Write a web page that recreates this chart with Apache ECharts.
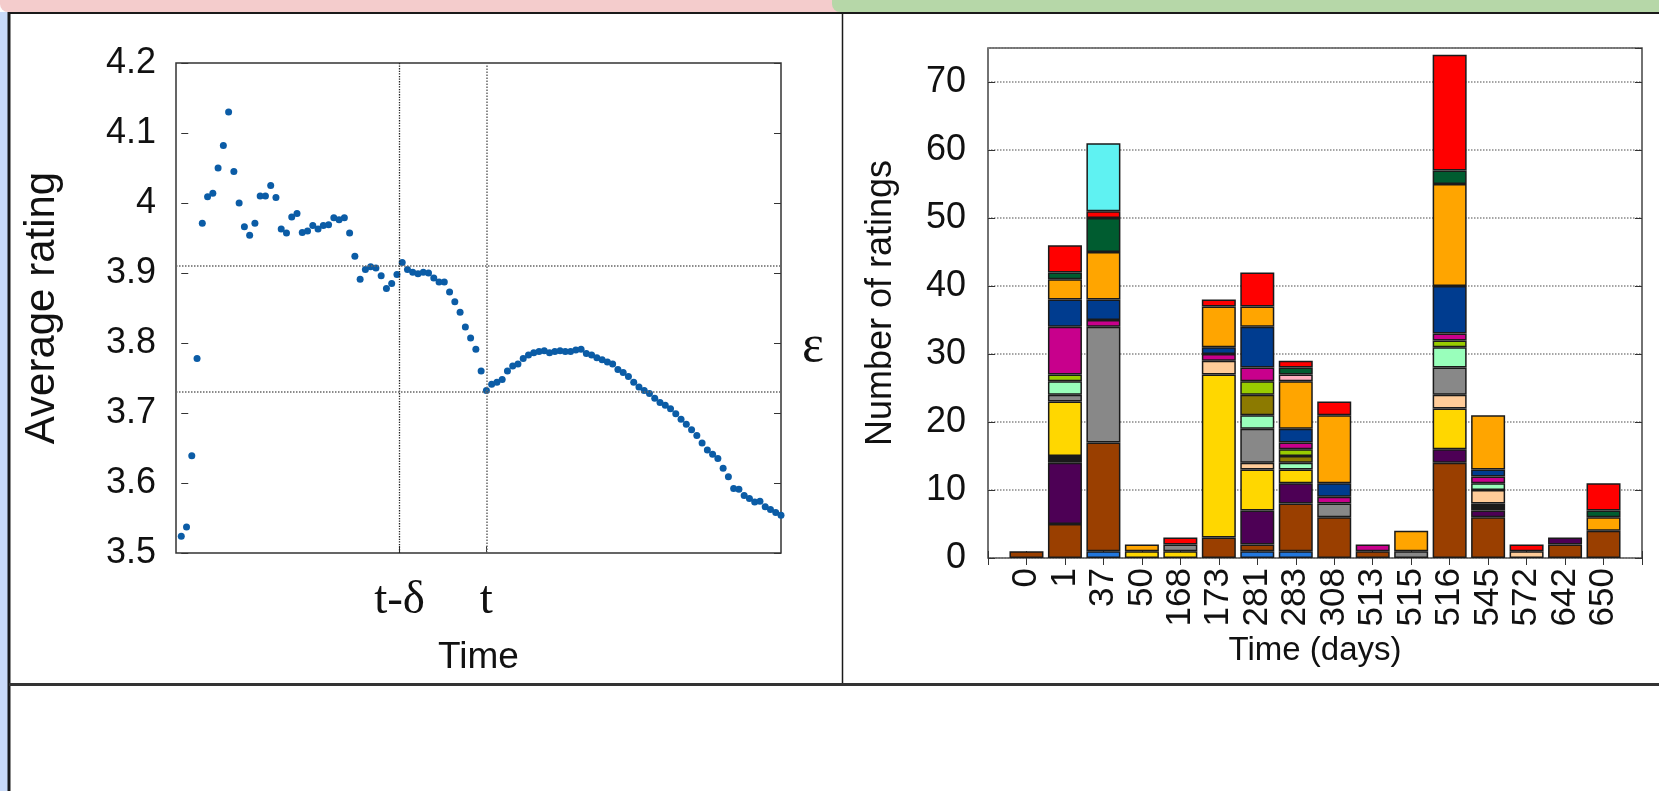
<!DOCTYPE html>
<html><head><meta charset="utf-8">
<script src="https://cdn.jsdelivr.net/npm/echarts@6/dist/echarts.min.js"></script>
<style>html,body{margin:0;padding:0;background:#fff;}#c{width:1659px;height:791px;}</style>
</head><body><div id="c"></div>
<script>
// ---------- Left panel: average rating over time ----------
const avgRating = [
  3.524, 3.537, 3.639, 3.778,
  3.971, 4.009, 4.014, 4.050, 4.082, 4.130, 4.045, 4.000, 3.966, 3.954, 3.971, 4.010, 4.010, 4.025, 4.008, 3.963,
  3.957, 3.980, 3.985, 3.958, 3.960, 3.968, 3.963, 3.968, 3.969, 3.979, 3.976, 3.979, 3.957, 3.924, 3.891, 3.905,
  3.909, 3.907, 3.896, 3.878, 3.885, 3.898, 3.915,
  3.905, 3.901, 3.899, 3.901, 3.900, 3.893, 3.887, 3.887, 3.873, 3.859, 3.844, 3.823, 3.807, 3.791, 3.760, 3.732,
  3.741, 3.744,
  3.748, 3.760, 3.767, 3.770, 3.778, 3.783, 3.786, 3.788, 3.789, 3.786, 3.788, 3.789, 3.788, 3.788, 3.790, 3.791,
  3.785, 3.783, 3.779, 3.776, 3.773, 3.770, 3.762, 3.758, 3.752, 3.744, 3.737, 3.732, 3.728, 3.721, 3.715, 3.711,
  3.706, 3.699, 3.691, 3.684, 3.676, 3.668, 3.657, 3.647, 3.641, 3.635, 3.621, 3.609, 3.592, 3.591, 3.582, 3.578,
  3.573, 3.574, 3.566, 3.562, 3.558, 3.554
];
const timeMarkPos = [41.5, 58];
const timeMarkLabels = ['t-δ', 't'];
const epsilonLevels = [3.907, 3.732];

// ---------- Right panel: number of ratings per day ----------
const dayLabels = ['0','1','37','50','168','173','281','283','308','513','515','516','545','572','642','650'];
const sLightBlue = [0,0,1,0,0,0,1,1,0,0,0,0,0,0,0,0];
const sBrown     = [1,5,16,0,0,3,1,7,6,1,0,14,6,0,2,4];
const sPurple    = [0,9,0,0,0,0,5,3,0,0,0,2,1,0,1,0];
const sBlack     = [0,1,0,0,0,0,0,0,0,0,0,0,1,0,0,0];
const sYellow    = [0,8,0,1,1,24,6,2,0,0,0,6,0,0,0,0];
const sPeach     = [0,0,0,0,0,2,1,0,0,0,0,2,2,1,0,0];
const sGray      = [0,1,17,0,1,0,5,0,2,0,1,4,0,0,0,0];
const sMint      = [0,2,0,0,0,0,2,1,0,0,0,3,1,0,0,0];
const sOlive     = [0,0,0,0,0,0,3,1,0,0,0,0,0,0,0,0];
const sYGreen    = [0,1,0,0,0,0,2,1,0,0,0,1,0,0,0,0];
const sMagenta   = [0,7,1,0,0,1,2,1,1,1,0,1,1,0,0,0];
const sDarkBlue  = [0,4,3,0,0,1,6,2,2,0,0,7,1,0,0,0];
const sOrange    = [0,3,7,1,0,6,3,7,10,0,3,15,8,0,0,2];
const sPink      = [0,0,0,0,0,0,0,1,0,0,0,0,0,0,0,0];
const sDarkGreen = [0,1,5,0,0,0,0,1,0,0,0,2,0,0,0,1];
const sRed       = [0,4,1,0,1,1,5,1,2,0,0,17,0,1,0,4];
const sCyan      = [0,0,10,0,0,0,0,0,0,0,0,0,0,0,0,0];

const stackData = [sLightBlue,sBrown,sPurple,sBlack,sYellow,sPeach,sGray,sMint,sOlive,sYGreen,sMagenta,sDarkBlue,sOrange,sPink,sDarkGreen,sRed,sCyan];
const stackColors = ['#2277dd','#9a3f00','#4d0055','#1a1a1a','#ffd700','#ffcc99','#888888','#99ffbb','#8c7a00','#99cc00','#c8008c','#003c8f','#ffa500','#ffb0c0','#005c30','#ff0000','#5ff2f2'];

const SANS = "'Liberation Sans', Arial, sans-serif";
const SERIF = "'Liberation Serif', 'Times New Roman', serif";

const catAxis = [''].concat(dayLabels, ['']);

const barSeries = stackData.map((arr, k) => ({
  type: 'bar', name: 'r' + k, xAxisIndex: 1, yAxisIndex: 2, stack: 'ratings', barWidth: 34,
  data: ['-'].concat(arr.map(v => v > 0 ? v : '-'), ['-']),
  itemStyle: { color: stackColors[k], borderColor: '#1a1a1a', borderWidth: 1.5 }
}));

const chart = echarts.init(document.getElementById('c'), null, { renderer: 'canvas' });
chart.setOption({
  animation: false,
  backgroundColor: '#ffffff',
  textStyle: { fontFamily: SANS },
  graphic: [
    { type: 'rect', shape: { x: 0, y: -10, width: 846, height: 22, r: 8 }, style: { fill: '#f4cccc' } },
    { type: 'rect', shape: { x: 832, y: -10, width: 840, height: 22, r: 8 }, style: { fill: '#b6d7a8' } },
    { type: 'rect', shape: { x: 0, y: 12, width: 8, height: 779 }, style: { fill: '#c9daf8' } },
    { type: 'line', shape: { x1: 8, y1: 13, x2: 1659, y2: 13 }, style: { stroke: '#1a1a1a', lineWidth: 2 } },
    { type: 'line', shape: { x1: 9, y1: 12, x2: 9, y2: 791 }, style: { stroke: '#1a1a1a', lineWidth: 3 } },
    { type: 'line', shape: { x1: 842.5, y1: 13, x2: 842.5, y2: 684 }, style: { stroke: '#1a1a1a', lineWidth: 1.5 } },
    { type: 'line', shape: { x1: 9, y1: 684.5, x2: 1659, y2: 684.5 }, style: { stroke: '#333333', lineWidth: 3 } },
    { type: 'text', x: 813, y: 347, style: { text: 'ε', font: "52px 'Liberation Serif'", fill: '#111', textAlign: 'center', textVerticalAlign: 'middle' } }
  ],
  grid: [
    { left: 176, top: 63, width: 605, height: 490, show: true, borderColor: '#333', borderWidth: 1.5, backgroundColor: 'transparent' },
    { left: 988, top: 48, width: 654, height: 510, show: true, borderColor: '#444', borderWidth: 1.5, backgroundColor: 'transparent' }
  ],
  xAxis: [
    { gridIndex: 0, type: 'value', min: -1, max: 114,
      axisLine: { show: false },
      axisTick: { show: true, inside: true, length: 7, customValues: timeMarkPos, lineStyle: { color: '#333' } },
      axisLabel: { customValues: timeMarkPos, formatter: v => timeMarkLabels[timeMarkPos.indexOf(v)] || '', margin: 24, fontFamily: SERIF, fontSize: 47, color: '#111' },
      splitLine: { show: false },
      name: 'Time', nameLocation: 'middle', nameGap: 86, nameTextStyle: { fontFamily: SANS, fontSize: 37, color: '#111' } },
    { gridIndex: 1, type: 'category', data: catAxis, boundaryGap: false, position: 'bottom',
      axisLine: { show: false },
      axisTick: { show: true, inside: true, interval: 0, length: 7, lineStyle: { color: '#333' } },
      axisLabel: { interval: 0, rotate: 90, margin: 10, fontFamily: SANS, fontSize: 35, color: '#111' },
      splitLine: { show: false },
      name: 'Time (days)', nameLocation: 'middle', nameGap: 64, nameTextStyle: { fontFamily: SANS, fontSize: 33, color: '#111' } },
    { gridIndex: 1, type: 'category', data: catAxis, boundaryGap: false, position: 'top',
      axisLine: { show: false },
      axisTick: { show: true, inside: true, interval: 0, length: 7, lineStyle: { color: '#333' } },
      axisLabel: { show: false }, splitLine: { show: false } }
  ],
  yAxis: [
    { gridIndex: 0, type: 'value', min: 3.5, max: 4.2, interval: 0.1, position: 'left',
      axisLine: { show: false },
      axisTick: { show: true, inside: true, length: 7, lineStyle: { color: '#333' } },
      axisLabel: { margin: 20, fontFamily: SANS, fontSize: 36, color: '#111' },
      splitLine: { show: false },
      name: 'Average rating', nameLocation: 'middle', nameGap: 113, nameTextStyle: { fontFamily: SANS, fontSize: 42, color: '#111' } },
    { gridIndex: 0, type: 'value', min: 3.5, max: 4.2, interval: 0.1, position: 'right',
      axisLine: { show: false },
      axisTick: { show: true, inside: true, length: 7, lineStyle: { color: '#333' } },
      axisLabel: { show: false }, splitLine: { show: false } },
    { gridIndex: 1, type: 'value', min: 0, max: 75, interval: 10, position: 'left',
      axisLine: { show: false },
      axisTick: { show: true, inside: true, length: 7, lineStyle: { color: '#333' } },
      axisLabel: { showMaxLabel: false, margin: 22, fontFamily: SANS, fontSize: 36, color: '#111' },
      splitLine: { show: true, lineStyle: { type: 'dotted', color: '#888', width: 1.5 } },
      name: 'Number of ratings', nameLocation: 'middle', nameGap: 89, nameTextStyle: { fontFamily: SANS, fontSize: 36, color: '#111' } },
    { gridIndex: 1, type: 'value', min: 0, max: 75, interval: 10, position: 'right',
      axisLine: { show: false },
      axisTick: { show: true, inside: true, length: 7, lineStyle: { color: '#333' } },
      axisLabel: { show: false }, splitLine: { show: false } }
  ],
  series: [
    { type: 'scatter', xAxisIndex: 0, yAxisIndex: 0,
      data: avgRating.map((v, i) => [i, v]),
      symbolSize: 7, itemStyle: { color: '#0b5ca6', opacity: 1 },
      markLine: { silent: true, symbol: 'none', label: { show: false },
        lineStyle: { type: 'dotted', width: 1.5, color: '#666' },
        data: [
          { xAxis: timeMarkPos[0], lineStyle: { color: '#222', type: 'dotted', width: 1.3 } },
          { xAxis: timeMarkPos[1] },
          { yAxis: epsilonLevels[0] },
          { yAxis: epsilonLevels[1] }
        ] } }
  ].concat(barSeries)
});
</script></body></html>
